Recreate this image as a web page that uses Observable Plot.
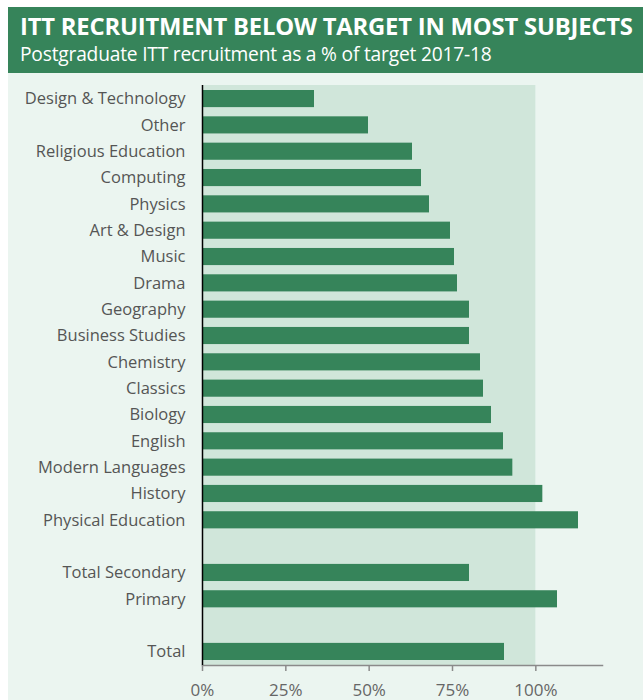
<!DOCTYPE html>
<html>
<head>
<meta charset="utf-8">
<script src="https://cdn.jsdelivr.net/npm/d3@7"></script>
<script src="https://cdn.jsdelivr.net/npm/@observablehq/plot@0.6"></script>
<style>
  html, body { margin: 0; padding: 0; background: #ffffff; }
  #wrap { position: absolute; left: 8px; top: 7px; width: 635px; height: 693px; background: #ebf5f0; font-family: "Open Sans", sans-serif; }
  #head { background: #36845a; height: 66px; color: #fff; padding-left: 12px; box-sizing: border-box; }
  #title { font-weight: 700; font-size: 23.8px; line-height: 24px; padding-top: 7px; letter-spacing: -0.2px; white-space: nowrap; }
  #sub { font-weight: 400; font-size: 19.2px; line-height: 22px; padding-top: 5px; letter-spacing: -0.2px; white-space: nowrap; }
  svg { display: block; }
</style>
</head>
<body>
<div id="wrap">
  <div id="head">
    <div id="title">ITT RECRUITMENT BELOW TARGET IN MOST SUBJECTS</div>
    <div id="sub">Postgraduate ITT recruitment as a % of target 2017-18</div>
  </div>
  <div id="chart"></div>
</div>
<script>
const categories = [
  "Design & Technology", "Other", "Religious Education", "Computing", "Physics",
  "Art & Design", "Music", "Drama", "Geography", "Business Studies", "Chemistry",
  "Classics", "Biology", "English", "Modern Languages", "History", "Physical Education",
  "Total Secondary", "Primary", "Total"
];
const values = [
  33.6, 49.8, 63.0, 65.7, 68.1,
  74.4, 75.6, 76.5, 80.1, 80.1, 83.4,
  84.3, 86.7, 90.3, 93.1, 102.1, 112.8,
  80.1, 106.5, 90.6
];
const rowOrder = [
  "Design & Technology", "Other", "Religious Education", "Computing", "Physics",
  "Art & Design", "Music", "Drama", "Geography", "Business Studies", "Chemistry",
  "Classics", "Biology", "English", "Modern Languages", "History", "Physical Education",
  "gap1", "Total Secondary", "Primary", "gap2", "Total"
];
const target = [100];
const xTicks = [0, 25, 50, 75, 100];

const data = categories.map((c, i) => ({subject: c, pct: values[i]}));

const chart = Plot.plot({
  width: 635,
  height: 627,
  marginTop: 12,
  marginBottom: 35,
  marginLeft: 194,
  marginRight: 41,
  style: {background: "transparent", fontFamily: "'Open Sans', sans-serif"},
  x: {domain: [0, 120]},
  y: {domain: rowOrder, paddingInner: 0.35, paddingOuter: 0.19, round: false},
  marks: [
    Plot.rect(target, {x1: 0, x2: d => d, fill: "#d0e6da"}),
    Plot.barX(data, {x: "pct", y: "subject", fill: "#36845a"}),
    Plot.frame({anchor: "bottom", stroke: "#8a8a8a", strokeWidth: 1.5}),
    Plot.ruleX([0], {stroke: "#000", strokeWidth: 1.5}),
    Plot.axisX({ticks: xTicks, tickFormat: d => d + "%", tickSize: 6, tickPadding: 12, stroke: "#8a8a8a", strokeWidth: 1.5, fill: "#666", fontSize: 17, label: null}),
    Plot.axisY({tickSize: 0, tickPadding: 17, tickFormat: d => d.startsWith("gap") ? "" : d, fill: "#555", fontSize: 16.5, label: null})
  ]
});
document.getElementById("chart").appendChild(chart);
</script>
</body>
</html>
